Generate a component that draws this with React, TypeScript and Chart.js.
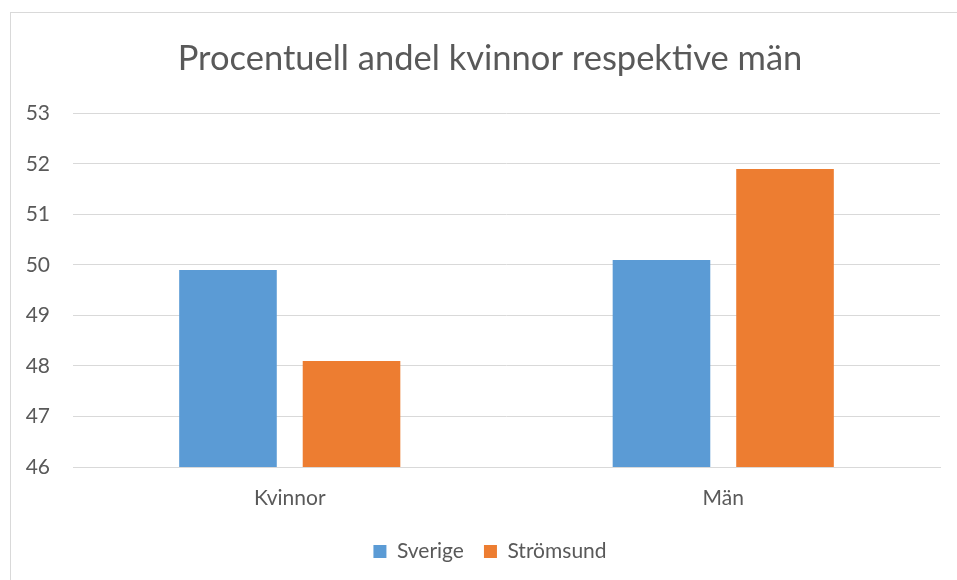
import React, { useEffect, useRef } from "react";
import { Chart, registerables } from "chart.js";

Chart.register(...registerables);

const categories = ["Kvinnor", "Män"];
const sverige = [49.9, 50.1];
const stromsund = [48.1, 51.9];
const seriesNames = ["Sverige", "Strömsund"];
const titleText = "Procentuell andel kvinnor respektive män";
const yMin = 46;
const yMax = 53;

const FONT = "Lato, 'Open Sans', sans-serif";
const TEXT = "#595959";
const GRID = "#d9d9d9";

// shift title & legend boxes so they centre like the original (Excel centres on the full chart frame)
const shiftBoxes = {
  id: "shiftBoxes",
  afterLayout(chart: any) {
    const shift = 40;
    if (chart.titleBlock) chart.titleBlock.left += shift;
    if (chart.legend) chart.legend.left += shift;
  },
};

export default function App() {
  const ref = useRef<HTMLCanvasElement | null>(null);

  useEffect(() => {
    if (!ref.current) return;
    const chart = new Chart(ref.current, {
      type: "bar",
      data: {
        labels: categories,
        datasets: [
          {
            label: seriesNames[0],
            data: sverige,
            backgroundColor: "#5B9BD5",
            categoryPercentage: 0.57,
            barPercentage: 0.79,
          },
          {
            label: seriesNames[1],
            data: stromsund,
            backgroundColor: "#ED7D31",
            categoryPercentage: 0.57,
            barPercentage: 0.79,
          },
        ],
      },
      plugins: [shiftBoxes],
      options: {
        animation: false,
        responsive: false,
        layout: { padding: { left: 0, right: 17, top: 0, bottom: 8 } },
        plugins: {
          title: {
            display: true,
            text: titleText,
            color: TEXT,
            font: { family: FONT, size: 34.5, weight: "normal" },
            padding: { top: 38, bottom: 34 },
          },
          legend: {
            position: "bottom",
            labels: {
              color: TEXT,
              font: { family: FONT, size: 21 },
              boxWidth: 13,
              boxHeight: 13,
              padding: 20,
            },
          },
          tooltip: { enabled: false },
        },
        scales: {
          x: {
            grid: { display: false, drawTicks: false },
            border: { display: true, color: GRID, width: 1 },
            ticks: {
              color: TEXT,
              font: { family: FONT, size: 21 },
              padding: 19,
            },
            afterFit: (s: any) => {
              s.height = 54;
            },
          },
          y: {
            min: yMin,
            max: yMax,
            grid: { color: GRID, drawTicks: false, lineWidth: 1 },
            border: { display: false },
            ticks: {
              stepSize: 1,
              color: TEXT,
              font: { family: FONT, size: 21 },
              padding: 23,
            },
            afterFit: (s: any) => {
              s.width = 73;
            },
          },
        },
      },
    });
    return () => chart.destroy();
  }, []);

  return (
    <div
      style={{
        position: "fixed",
        left: 0,
        top: 0,
        width: 957,
        height: 580,
        overflow: "hidden",
        background: "#fff",
      }}
    >
      <div
        style={{
          position: "absolute",
          left: 10,
          top: 12,
          width: 980,
          height: 600,
          border: "1px solid #d9d9d9",
        }}
      />
      <canvas
        ref={ref}
        width={957}
        height={580}
        style={{ position: "absolute", left: 0, top: 0 }}
      />
    </div>
  );
}
